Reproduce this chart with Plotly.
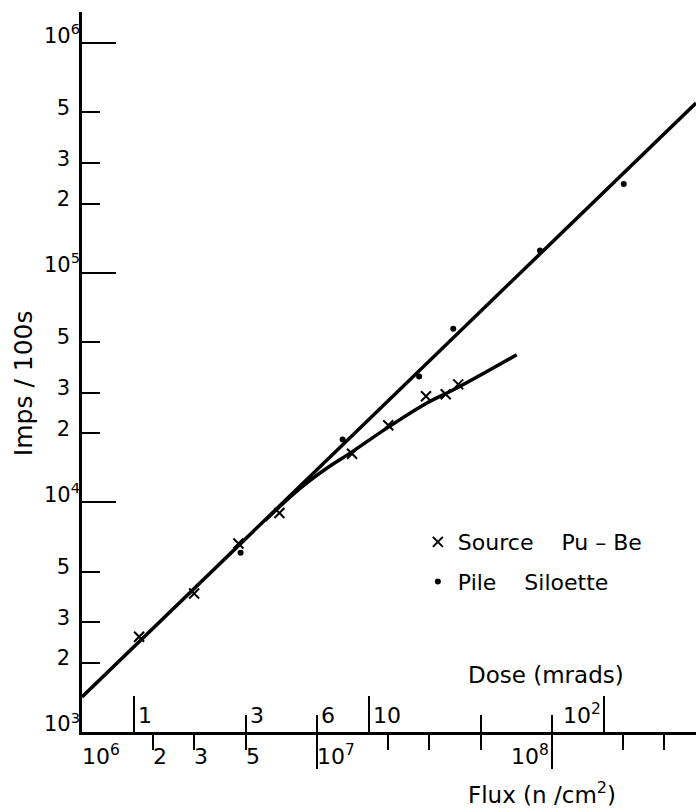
import numpy as np
import plotly.graph_objects as go

# ---------------- data ----------------
pube_flux = [1.75e6, 3.0e6, 4.63e6, 6.92e6, 1.41e7, 2.01e7, 2.91e7, 3.53e7, 3.99e7]
pube_imps = [2.60e3, 4.01e3, 6.62e3, 9.0e3, 1.63e4, 2.17e4, 2.90e4, 2.96e4, 3.27e4]

pile_flux = [4.73e6, 1.285e7, 2.72e7, 3.80e7, 8.89e7, 2.02e8]
pile_imps = [6.04e3, 1.88e4, 3.54e4, 5.71e4, 1.253e5, 2.44e5]

fit_flux = [1.0e6, 4.1e8]
fit_imps = [1.42e3, 5.5e5]

curve_flux = [6.01e6, 8.47e6, 1.10e7, 1.409e7, 2.005e7, 2.91e7, 3.98e7, 7.08e7]
curve_imps = [8.35e3, 1.152e4, 1.41e4, 1.661e4, 2.124e4, 2.70e4, 3.17e4, 4.40e4]

# axes / ticks
flux_min, flux_max = 1.0e6, 4.1e8
imps_min, imps_max = 1.0e3, 1.37e6
dose_per_flux = 6e-7  # mrad per n/cm2

flux_major_ticks = [1e7, 1e8]
flux_minor_ticks = [2e6, 3e6, 5e6, 2e7, 3e7, 5e7, 2e8, 3e8]
flux_label_vals = [1e6, 2e6, 3e6, 5e6, 1e7, 1e8]
flux_label_text = ["10<sup>6</sup>", "2", "3", "5", "10<sup>7</sup>", "10<sup>8</sup>"]
flux_label_side = ["left", "left", "left", "left", "left", "right"]

dose_major_ticks = [1, 10, 100]
dose_minor_ticks = [3, 6, 30, 60]
dose_label_vals = [1, 3, 6, 10, 100]
dose_label_text = ["1", "3", "6", "10", "10<sup>2</sup>"]
dose_label_side = ["left", "left", "left", "left", "right"]

imps_major_ticks = [1e3, 1e4, 1e5, 1e6]
imps_major_text = ["10<sup>3</sup>", "10<sup>4</sup>", "10<sup>5</sup>", "10<sup>6</sup>"]
imps_minor_ticks = [2e3, 3e3, 5e3, 2e4, 3e4, 5e4, 2e5, 3e5, 5e5]
imps_minor_text = ["2", "3", "5", "2", "3", "5", "2", "3", "5"]

FONT = "DejaVu Sans"

fig = go.Figure()

fig.add_trace(go.Scatter(x=fit_flux, y=fit_imps, mode="lines",
                         line=dict(color="black", width=3.5),
                         showlegend=False, hoverinfo="skip"))
fig.add_trace(go.Scatter(x=curve_flux, y=curve_imps, mode="lines",
                         line=dict(color="black", width=3.5, shape="spline", smoothing=1.0),
                         showlegend=False, hoverinfo="skip"))
fig.add_trace(go.Scatter(x=pube_flux, y=pube_imps, mode="markers",
                         name="Source\u00a0\u00a0\u00a0\u00a0Pu – Be", legendgroup="a",
                         marker=dict(symbol="x-thin", size=10, color="black",
                                     line=dict(width=2, color="black"))))
fig.add_trace(go.Scatter(x=pile_flux, y=pile_imps, mode="markers",
                         name="Pile\u00a0\u00a0\u00a0\u00a0Siloette", legendgroup="b",
                         marker=dict(symbol="circle", size=6, color="black")))
# invisible trace so the overlaid dose / minor axes are rendered
fig.add_trace(go.Scatter(x=dose_major_ticks, y=imps_minor_ticks[:3], xaxis="x2", yaxis="y2",
                         mode="markers", marker=dict(opacity=0), showlegend=False,
                         hoverinfo="skip"))

dose_min = dose_per_flux * flux_min
dose_max = dose_per_flux * flux_max

ytickfont = dict(size=21, family=FONT)

fig.update_layout(
    width=696, height=808,
    margin=dict(l=82, r=0, t=12, b=76),
    plot_bgcolor="white", paper_bgcolor="white",
    font=dict(family=FONT, color="black"),
    xaxis=dict(type="log", range=[np.log10(flux_min), np.log10(flux_max)],
               showline=True, linecolor="black", linewidth=2.5,
               showgrid=False, zeroline=False,
               ticks="outside", tickmode="array", tickvals=flux_major_ticks,
               ticklen=34, tickwidth=2, tickcolor="black", showticklabels=False,
               minor=dict(tickmode="array", tickvals=flux_minor_ticks, ticks="outside",
                          ticklen=15, tickwidth=2, tickcolor="black", showgrid=False)),
    xaxis2=dict(type="log", range=[np.log10(dose_min), np.log10(dose_max)],
                overlaying="x", anchor="y", side="bottom",
                showline=False, showgrid=False, zeroline=False,
                ticks="inside", tickmode="array", tickvals=dose_major_ticks,
                ticklen=36, tickwidth=2, tickcolor="black", showticklabels=False,
                minor=dict(tickmode="array", tickvals=dose_minor_ticks, ticks="inside",
                           ticklen=17, tickwidth=2, tickcolor="black", showgrid=False)),
    yaxis=dict(type="log", range=[np.log10(imps_min), np.log10(imps_max)],
               showline=True, linecolor="black", linewidth=2.5,
               showgrid=False, zeroline=False,
               ticks="inside", tickmode="array", tickvals=imps_major_ticks,
               ticktext=imps_major_text, ticklen=34, tickwidth=2, tickcolor="black",
               tickfont=ytickfont, ticklabelshift=-8,
               ticklabelstandoff=-5),
    yaxis2=dict(type="log", range=[np.log10(imps_min), np.log10(imps_max)],
                overlaying="y", anchor="x", side="left",
                showline=False, showgrid=False, zeroline=False,
                ticks="inside", tickmode="array", tickvals=imps_minor_ticks,
                ticktext=imps_minor_text, ticklen=18, tickwidth=2, tickcolor="black",
                tickfont=ytickfont, ticklabelshift=-5,
                ticklabelstandoff=11),
    legend=dict(x=0.547, y=0.293, xanchor="left", yanchor="top",
                font=dict(size=22, family=FONT), bgcolor="rgba(0,0,0,0)",
                traceorder="grouped", tracegroupgap=8),
)

annotations = []
for v, t, s in zip(flux_label_vals, flux_label_text, flux_label_side):
    annotations.append(dict(x=np.log10(v), xref="x", y=0, yref="paper", text=t,
                            showarrow=False, xanchor=s, yanchor="bottom",
                            xshift=(-2 if s == "left" else -1), yshift=-39,
                            font=dict(size=22, family=FONT)))
for v, t, s in zip(dose_label_vals, dose_label_text, dose_label_side):
    annotations.append(dict(x=np.log10(v), xref="x2", y=0, yref="paper", text=t,
                            showarrow=False, xanchor=s, yanchor="bottom",
                            xshift=(2 if s == "left" else -1), yshift=2,
                            font=dict(size=22, family=FONT)))
annotations += [
    dict(text="Imps / 100s", x=-0.0961, y=0.4845, xref="paper", yref="paper",
         textangle=-90, showarrow=False, xanchor="center", yanchor="middle",
         font=dict(size=25, family=FONT)),
    dict(text="Dose (mrads)", x=0.7549, y=0.0788, xref="paper", yref="paper",
         showarrow=False, xanchor="center", yanchor="middle",
         font=dict(size=23, family=FONT)),
    dict(text="Flux (n /cm<sup>2</sup>)", x=0.749, y=-0.0852, xref="paper", yref="paper",
         showarrow=False, xanchor="center", yanchor="middle",
         font=dict(size=23, family=FONT)),
]
fig.update_layout(annotations=annotations)

fig.write_html("out.html", config={"displayModeBar": False},
               post_script="document.body.style.margin='0';document.body.style.overflow='hidden';")
